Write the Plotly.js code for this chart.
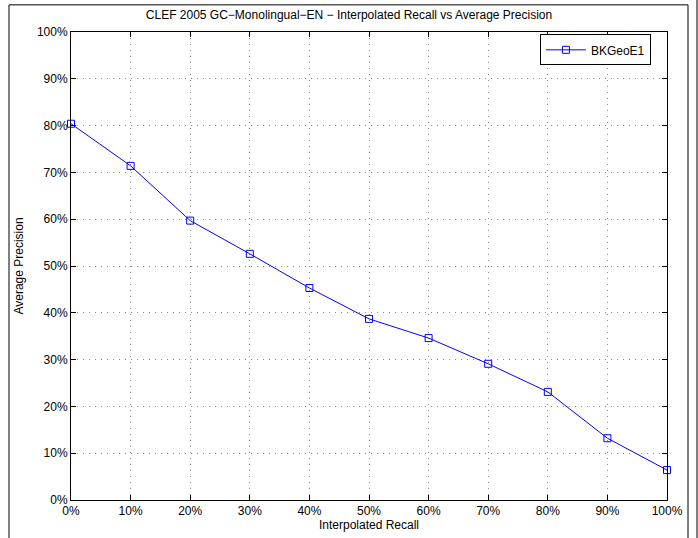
<!DOCTYPE html>
<html>
<head>
<meta charset="utf-8">
<script src="https://cdn.plot.ly/plotly-3.0.1.min.js"></script>
<style>html,body{margin:0;padding:0;background:#fff;}#chart{width:698px;height:538px;}</style>
</head>
<body>
<div id="chart"></div>
<script>
const recall = [0, 0.1, 0.2, 0.3, 0.4, 0.5, 0.6, 0.7, 0.8, 0.9, 1.0];
const precision = [0.804, 0.714, 0.597, 0.526, 0.453, 0.387, 0.346, 0.291, 0.231, 0.132, 0.064];
const seriesName = 'BKGeoE1';
const tickVals = [0, 0.1, 0.2, 0.3, 0.4, 0.5, 0.6, 0.7, 0.8, 0.9, 1.0];
const tickText = ['0%', '10%', '20%', '30%', '40%', '50%', '60%', '70%', '80%', '90%', '100%'];

const font = 'Liberation Sans, Arial, sans-serif';
const axisCommon = {
  range: [0, 1],
  tickvals: tickVals,
  ticktext: tickText,
  ticks: 'inside',
  ticklen: 5,
  tickcolor: '#000',
  tickwidth: 1,
  showline: true,
  linecolor: '#000',
  linewidth: 1,
  mirror: 'ticks',
  showgrid: true,
  gridcolor: '#8c8c8c',
  griddash: '1px,5px',
  gridwidth: 1,
  zeroline: false,
  tickfont: {family: font, size: 12, color: '#000'},
  fixedrange: true
};

const trace = {
  x: recall,
  y: precision,
  type: 'scatter',
  mode: 'lines+markers',
  name: seriesName,
  line: {color: '#0000ff', width: 1},
  marker: {symbol: 'square-open', size: 7, color: '#0000ff', line: {width: 1, color: '#0000ff'}},
  cliponaxis: false
};

const layout = {
  width: 698,
  height: 538,
  margin: {l: 71, r: 31, t: 32, b: 38},
  paper_bgcolor: '#fff',
  plot_bgcolor: '#fff',
  title: {text: 'CLEF 2005 GC\u2212Monolingual\u2212EN \u2212 Interpolated Recall vs Average Precision',
          font: {family: font, size: 12, color: '#000'}, x: 0.5, xanchor: 'center', y: 0.972, yanchor: 'middle'},
  xaxis: Object.assign({}, axisCommon, {
    title: {text: 'Interpolated Recall', font: {family: font, size: 12, color: '#000'}, standoff: 2}
  }),
  yaxis: Object.assign({}, axisCommon, {
    title: {text: 'Average Precision', font: {family: font, size: 12, color: '#000'}, standoff: 10}
  }),
  showlegend: true,
  legend: {
    x: 0.973, y: 0.995, xanchor: 'right', yanchor: 'top',
    bgcolor: '#fff', bordercolor: '#000', borderwidth: 1,
    font: {family: font, size: 12, color: '#000'},
    itemwidth: 40,
    tracegroupgap: 0
  },
  shapes: [
    {type: 'line', xref: 'paper', yref: 'paper', x0: (9-71)/596, x1: (9-71)/596, y0: 1.058, y1: -0.1, line: {color: '#000', width: 1}},
    {type: 'line', xref: 'paper', yref: 'paper', x0: (9-71)/596, x1: (688-71)/596, y0: 1.058, y1: 1.058, line: {color: '#000', width: 1}},
    {type: 'line', xref: 'paper', yref: 'paper', x0: (688-71)/596, x1: (688-71)/596, y0: 1.058, y1: -0.1, line: {color: '#000', width: 1}},
    {type: 'line', xref: 'paper', yref: 'paper', x0: (697-71)/596, x1: (697-71)/596, y0: 1.1, y1: -0.1, line: {color: '#000', width: 1}}
  ]
};

Plotly.newPlot('chart', [trace], layout, {displayModeBar: false, staticPlot: true});
</script>
</body>
</html>
